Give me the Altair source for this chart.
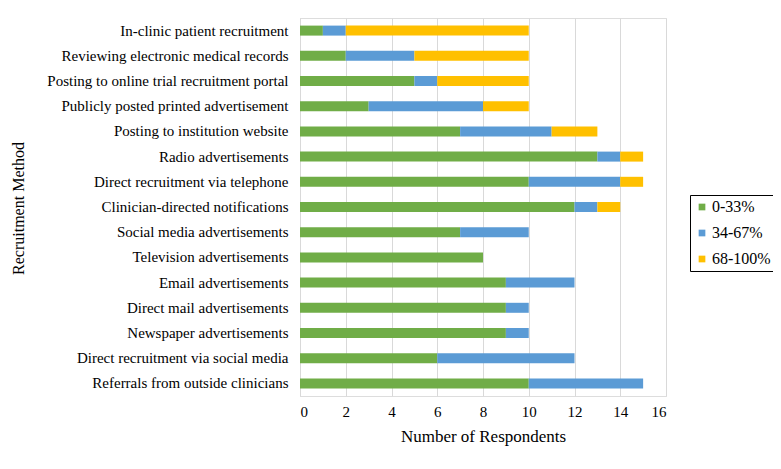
import altair as alt
import pandas as pd

methods = [
    "In-clinic patient recruitment",
    "Reviewing electronic medical records",
    "Posting to online trial recruitment portal",
    "Publicly posted printed advertisement",
    "Posting to institution website",
    "Radio advertisements",
    "Direct recruitment via telephone",
    "Clinician-directed notifications",
    "Social media advertisements",
    "Television advertisements",
    "Email advertisements",
    "Direct mail advertisements",
    "Newspaper advertisements",
    "Direct recruitment via social media",
    "Referrals from outside clinicians",
]
series = ["0-33%", "34-67%", "68-100%"]
low = [1, 2, 5, 3, 7, 13, 10, 12, 7, 8, 9, 9, 9, 6, 10]
mid = [1, 3, 1, 5, 4, 1, 4, 1, 3, 0, 3, 1, 1, 6, 5]
high = [8, 5, 4, 2, 2, 1, 1, 1, 0, 0, 0, 0, 0, 0, 0]
colors = ["#70AD47", "#5B9BD5", "#FFC000"]

rows = []
for vals, s_i in zip([low, mid, high], range(3)):
    for m, v in zip(methods, vals):
        rows.append({"method": m, "series": series[s_i], "order": s_i, "value": v})
df = pd.DataFrame(rows)

W, H = 366, 378
FONT = "Liberation Serif"

bars = alt.Chart(df).mark_bar(size=10).encode(
    y=alt.Y("method:N", sort=methods, title="Recruitment Method",
            axis=alt.Axis(labelFont=FONT, labelFontSize=15, labelColor="#000000",
                          labelPadding=12, labelLimit=400, ticks=False, domain=True,
                          domainColor="#d9d9d9", grid=False,
                          titleFont=FONT, titleFontSize=16, titleFontWeight="normal",
                          titleColor="#000000", titleX=-282, titleY=190,
                          titleAlign="center", titleBaseline="middle", titleAngle=270)),
    x=alt.X("sum(value):Q", title="Number of Respondents",
            scale=alt.Scale(domain=[0, 16], nice=False),
            axis=alt.Axis(values=list(range(0, 17, 2)), labelFont=FONT, labelFontSize=15,
                          labelColor="#000000", labelPadding=8, ticks=False, domain=False,
                          grid=True, gridColor="#d9d9d9", gridWidth=1,
                          titleFont=FONT, titleFontSize=17, titleFontWeight="normal",
                          titleColor="#000000", titlePadding=9)),
    color=alt.Color("series:N", sort=series,
                    scale=alt.Scale(domain=series, range=colors),
                    legend=alt.Legend(title=None, orient="none", legendX=390, legendY=177,
                                      symbolType="square", symbolSize=45, symbolStrokeWidth=0,
                                      labelFont=FONT, labelFontSize=16, labelColor="#000000",
                                      labelOffset=2,
                                      strokeColor="#000000", padding=4, rowPadding=10,
                                      fillColor="white")),
    order=alt.Order("order:Q"),
)

chart = bars.properties(
    width=W, height=H,
    autosize=alt.AutoSizeParams(type="none"),
    padding={"left": 292, "top": 10, "right": 107, "bottom": 65},
    background="white",
).configure_view(stroke=None).configure(font=FONT)

chart.save("out.html", embed_options={"renderer": "svg", "actions": False})
